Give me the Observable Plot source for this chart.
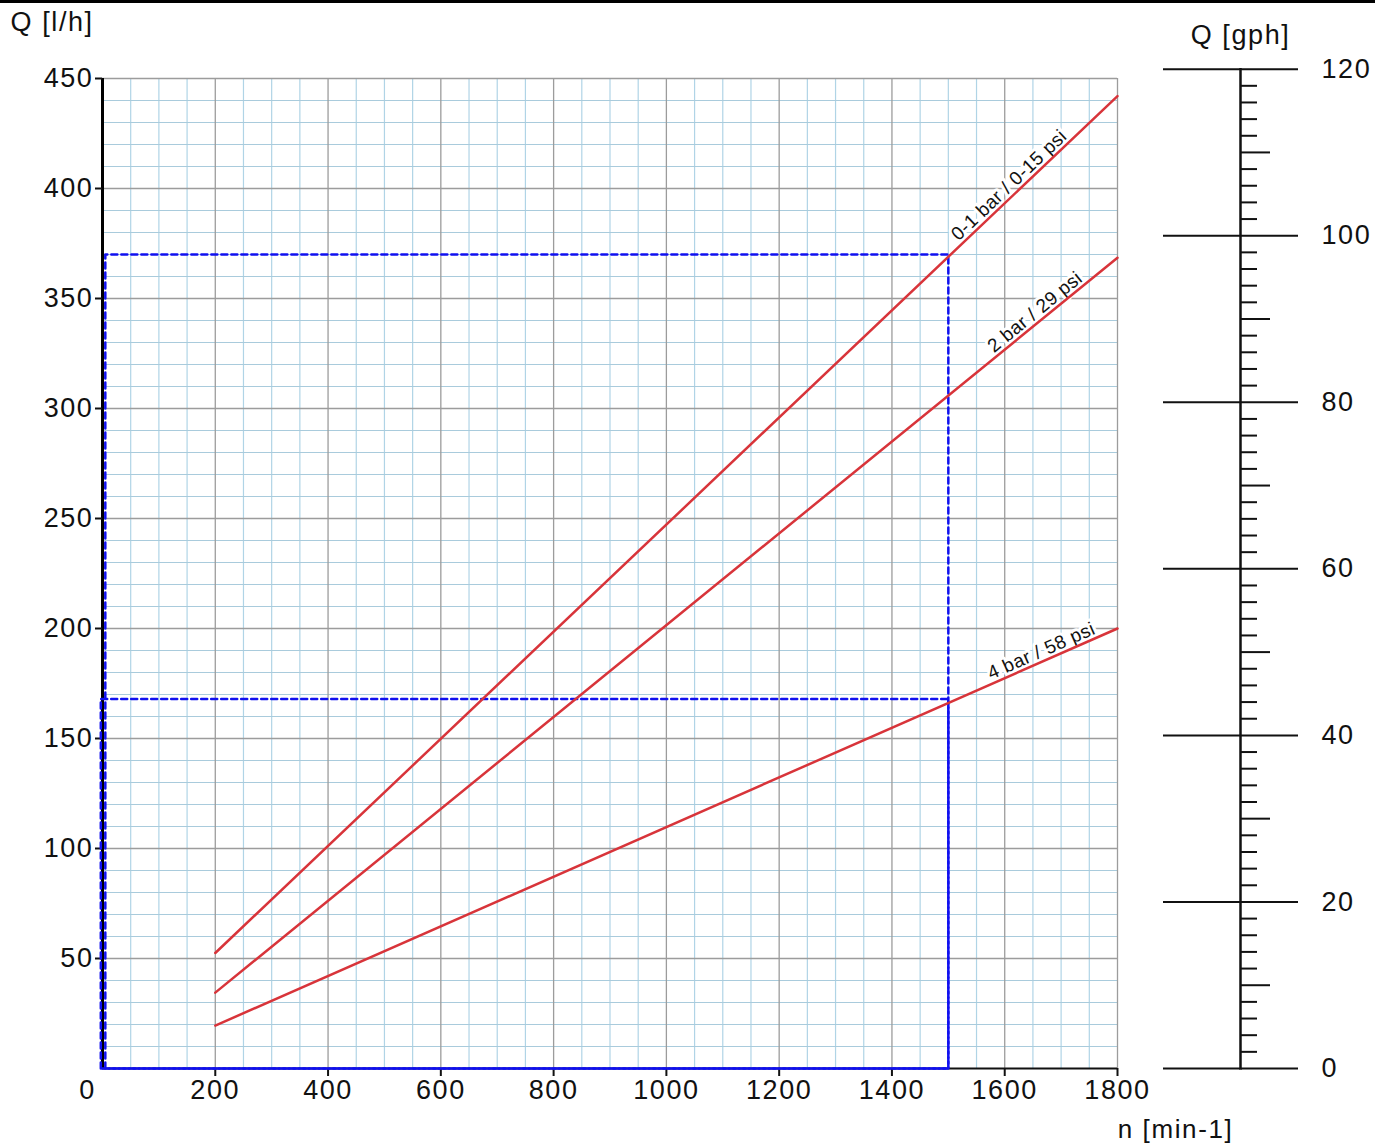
<!DOCTYPE html>
<html>
<head>
<meta charset="utf-8">
<script src="https://cdn.jsdelivr.net/npm/d3@7"></script>
<script src="https://cdn.jsdelivr.net/npm/@observablehq/plot@0.6"></script>
<style>
html, body { margin: 0; padding: 0; background: #fff; }
#chart { position: relative; width: 1375px; height: 1146px; overflow: hidden; font-family: "Liberation Sans", Arial, Helvetica, sans-serif; }
#chart svg { position: absolute; top: 0; }
#chart svg text { letter-spacing: 1.6px; }
#chart svg text.curve-label { letter-spacing: 0.4px; }
#topbar { position: absolute; left: 0; top: 0; width: 1375px; height: 3px; background: #000; z-index: 5; }
</style>
</head>
<body>
<div id="chart"><div id="topbar"></div></div>
<script>
// ---- data ----
const seriesNames = ["0-1 bar / 0-15 psi", "2 bar / 29 psi", "4 bar / 58 psi"];
const speedEnds = [200, 1800];          // n [min-1]
const flowLowPressure = [52.5, 442];    // Q [l/h] for 0-1 bar
const flowMidPressure = [34.5, 368.5];  // Q [l/h] for 2 bar
const flowHighPressure = [19.5, 200];   // Q [l/h] for 4 bar
const labelSpeeds = [1620, 1665, 1672];
const operatingSpeed = 1500;
const operatingFlows = [370, 168];
const guideStarts = [5, -3];
const xTickValues = [200, 400, 600, 800, 1000, 1200, 1400, 1600, 1800];
const yTickValues = [50, 100, 150, 200, 250, 300, 350, 400, 450];
const gphMajor = [0, 20, 40, 60, 80, 100, 120];
const gphMid = [10, 30, 50, 70, 90, 110];
const gphMinor = d3.range(2, 120, 2).filter(v => v % 10 !== 0);
const litersPerGallon = 3.78541;

// ---- layout ----
const W = 1375, H = 1146;
const mL = 102, mR = 258, mT = 78, mB = 78;
const fontFamily = '"Liberation Sans", Arial, Helvetica, sans-serif';
const FS = 27;
const labelGap = 4;

const flows = [flowLowPressure, flowMidPressure, flowHighPressure];
const curves = seriesNames.flatMap((name, i) => speedEnds.map((n, j) => ({name, n, q: flows[i][j]})));
const pxPerN = (W - mL - mR) / 1800;
const pxPerQ = (H - mT - mB) / 450;
const labels = seriesNames.map((name, i) => {
  const f = flows[i];
  const slope = (f[1] - f[0]) / (speedEnds[1] - speedEnds[0]);
  const n = labelSpeeds[i];
  const rad = -Math.atan(slope * pxPerQ / pxPerN);
  return {name, n, q: f[0] + slope * (n - speedEnds[0]), angle: rad * 180 / Math.PI, rad};
});
const guides = operatingFlows.flatMap((q, i) => {
  const s = guideStarts[i];
  return [[s, 0], [s, q], [operatingSpeed, q], [operatingSpeed, 0], [s, 0]].map(([n, qq]) => ({g: i, n, q: qq}));
});

const minorBlue = "#b0d4e6";
const majorGrey = "#9c9c9c";

const labelMarks = labels.map(l => Plot.text([l], {
  x: "n", y: "q", text: "name", rotate: "angle", textAnchor: "middle", lineAnchor: "bottom",
  dx: labelGap * Math.sin(l.rad), dy: -labelGap * Math.cos(l.rad),
  fontSize: 19, fill: "#111", stroke: "white", strokeWidth: 6
}));

const main = Plot.plot({
  width: W, height: H,
  marginLeft: mL, marginRight: mR, marginTop: mT, marginBottom: mB,
  style: {fontFamily, fontSize: FS + "px", color: "#111", background: "transparent", overflow: "visible"},
  x: {domain: [0, 1800]},
  y: {domain: [0, 450]},
  marks: [
    Plot.ruleX(d3.range(50, 1800, 50).filter(v => v % 200 !== 0), {stroke: minorBlue, strokeWidth: 1.2}),
    Plot.ruleY(d3.range(10, 450, 10).filter(v => v % 50 !== 0), {stroke: "#a9cbdc", strokeWidth: 1.2}),
    Plot.ruleX(xTickValues, {stroke: majorGrey, strokeWidth: 1.3}),
    Plot.ruleY(yTickValues, {stroke: majorGrey, strokeWidth: 1.3}),
    Plot.ruleX([0], {stroke: "#000", strokeWidth: 3}),
    Plot.ruleY([0], {stroke: "#111", strokeWidth: 2}),
    Plot.axisY(yTickValues, {tickSize: 7, tickPadding: 2, fontSize: FS, label: null, strokeWidth: 2, tickFormat: d => String(d)}),
    Plot.axisX(xTickValues, {tickSize: 8, tickPadding: 3, fontSize: FS, label: null, strokeWidth: 2, tickFormat: d => String(d)}),
    Plot.text([0], {x: d => d, y: d => 0, text: d => String(d), dx: -15, dy: 22, fontSize: FS}),
    Plot.line(guides, {x: "n", y: "q", z: "g", stroke: "#1010f0", strokeWidth: 2.5, strokeDasharray: "6,4"}),
    ...labelMarks,
    Plot.line(curves, {x: "n", y: "q", z: "name", stroke: "#d8343a", strokeWidth: 2.5}),
    Plot.text(["Q [l/h]"], {frameAnchor: "top-left", dx: -92, dy: -56, textAnchor: "start", lineAnchor: "middle", fontSize: FS}),
    Plot.text(["n [min-1]"], {frameAnchor: "bottom-right", dx: 58, dy: 61, textAnchor: "middle", lineAnchor: "middle", fontSize: FS - 1})
  ]
});
main.style.left = "0px";
d3.select(main).selectAll("text").filter(function () {
  return (this.getAttribute("transform") || "").includes("rotate");
}).classed("curve-label", true);
document.getElementById("chart").appendChild(main);

// ---- secondary gph scale ----
const gphAtTop = 450 / litersPerGallon;
const pxPerGph = (H - mT - mB) / gphAtTop;
const gTop = mT - (120 - gphAtTop) * pxPerGph;
const gLeft = 1140;
const axisX = 1240;

const gph = Plot.plot({
  width: W - gLeft, height: H,
  marginLeft: axisX - gLeft, marginRight: W - axisX, marginTop: gTop, marginBottom: mB,
  style: {fontFamily, fontSize: FS + "px", color: "#111", background: "transparent", overflow: "visible"},
  y: {domain: [0, 120]},
  marks: [
    Plot.frame({anchor: "left", stroke: "#111", strokeWidth: 2.5}),
    Plot.axisY(gphMajor, {anchor: "left", tickSize: 77, tickFormat: () => "", label: null, strokeWidth: 2}),
    Plot.axisY(gphMajor, {anchor: "right", tickSize: 57, tickPadding: 24, fontSize: FS, label: null, strokeWidth: 2}),
    Plot.axisY(gphMid, {anchor: "right", tickSize: 29, tickFormat: () => "", label: null, strokeWidth: 2}),
    Plot.axisY(gphMinor, {anchor: "right", tickSize: 16, tickFormat: () => "", label: null, strokeWidth: 2}),
    Plot.text(["Q [gph]"], {frameAnchor: "top", dy: 35 - gTop, lineAnchor: "middle", fontSize: FS})
  ]
});
gph.style.left = gLeft + "px";
document.getElementById("chart").appendChild(gph);
</script>
</body>
</html>
